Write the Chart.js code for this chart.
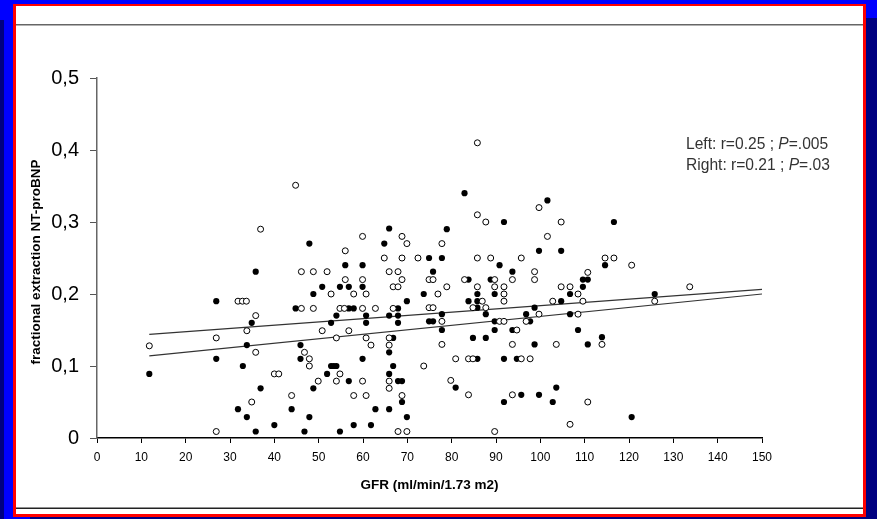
<!DOCTYPE html>
<html>
<head>
<meta charset="utf-8">
<script src="https://cdn.jsdelivr.net/npm/chart.js@4.4.1/dist/chart.umd.min.js"></script>
<style>
  html, body { margin: 0; padding: 0; background: #000080; }
  #wrap { width: 877px; height: 519px; }
</style>
</head>
<body>
<div id="wrap"><canvas id="chart" width="877" height="519"></canvas></div>
<script>
// GFR (x) and fractional extraction (y)
const filledPoints = [
  [11.8, 0.089], [26.9, 0.19], [26.9, 0.11], [31.8, 0.04], [32.9, 0.10], [33.8, 0.129],
  [33.8, 0.029], [34.9, 0.16], [35.8, 0.231], [35.8, 0.009], [36.9, 0.069],
  [40, 0.018], [43.9, 0.04], [44.8, 0.18], [45.9, 0.129], [45.9, 0.11], [46.8, 0.009],
  [47.9, 0.27], [47.9, 0.029], [48.8, 0.2], [48.8, 0.069], [50.8, 0.21], [51.9, 0.089],
  [52.8, 0.16], [52.8, 0.10], [53.4, 0.10], [54, 0.17], [54, 0.10], [54.8, 0.21],
  [54.8, 0.009], [56, 0.24], [56.8, 0.21], [56.8, 0.18], [56.8, 0.079], [57.9, 0.18],
  [57.9, 0.018], [59.9, 0.24], [59.9, 0.21], [59.9, 0.11], [60.7, 0.17], [60.7, 0.16],
  [61.8, 0.018], [62.8, 0.04], [64.8, 0.27], [65.9, 0.291], [65.9, 0.17], [65.9, 0.119],
  [65.9, 0.089], [65.9, 0.04], [66.8, 0.139], [66.8, 0.10], [67.9, 0.18], [67.9, 0.17],
  [67.9, 0.16], [67.9, 0.079], [68.8, 0.079], [68.8, 0.05], [69.9, 0.19], [69.9, 0.029],
  [73.7, 0.2], [74.9, 0.25], [74.9, 0.162], [75.8, 0.231], [75.8, 0.162], [77.8, 0.25],
  [77.8, 0.172], [77.8, 0.15], [78.9, 0.29], [80.9, 0.07], [82.9, 0.34], [83.8, 0.22],
  [83.8, 0.19], [84.8, 0.139], [85.8, 0.2], [85.8, 0.19], [85.8, 0.181], [85.8, 0.11],
  [87.7, 0.172], [87.7, 0.139], [88.8, 0.22], [89.7, 0.2], [89.7, 0.162], [89.7, 0.15],
  [90.8, 0.24], [91.8, 0.30], [91.8, 0.11], [91.8, 0.05], [93.7, 0.231], [93.7, 0.15],
  [94.7, 0.11], [95.7, 0.06], [96.8, 0.172], [97.7, 0.162], [98.7, 0.181], [98.7, 0.13],
  [99.7, 0.26], [99.7, 0.06], [101.6, 0.33], [102.8, 0.05], [103.6, 0.07], [104.7, 0.26],
  [104.7, 0.19], [106.7, 0.2], [106.7, 0.172], [108.5, 0.15], [109.6, 0.22], [109.6, 0.21],
  [110.7, 0.22], [110.7, 0.13], [113.9, 0.14], [114.6, 0.24], [116.6, 0.30], [120.6, 0.029],
  [125.8, 0.2]
];

const openPoints = [
  [11.8, 0.128], [26.9, 0.139], [26.9, 0.009], [31.8, 0.19], [32.8, 0.19], [33.7, 0.19],
  [33.8, 0.149], [34.9, 0.05], [35.8, 0.17], [35.8, 0.119], [36.9, 0.29],
  [40, 0.089], [41, 0.089], [43.9, 0.059], [44.8, 0.351], [46.1, 0.231], [46.1, 0.18],
  [46.8, 0.119], [47.9, 0.11], [47.9, 0.10], [48.8, 0.231], [48.8, 0.18], [49.9, 0.079],
  [50.8, 0.149], [51.9, 0.231], [52.8, 0.2], [54, 0.139], [54, 0.079], [54.8, 0.18],
  [54.8, 0.089], [55.8, 0.18], [56, 0.26], [56, 0.22], [56.8, 0.149], [57.9, 0.2],
  [57.9, 0.059], [59.9, 0.28], [59.9, 0.22], [59.9, 0.18], [59.9, 0.079], [60.7, 0.2],
  [60.7, 0.139], [60.7, 0.059], [61.8, 0.129], [62.8, 0.18], [64.8, 0.25], [65.9, 0.231],
  [65.9, 0.139], [65.9, 0.129], [65.9, 0.079], [65.9, 0.069], [66.8, 0.21], [66.8, 0.18],
  [67.9, 0.231], [67.9, 0.21], [67.9, 0.009], [68.8, 0.28], [68.8, 0.25], [68.8, 0.22],
  [68.8, 0.059], [69.9, 0.27], [69.9, 0.009], [72.4, 0.25], [73.7, 0.10], [74.9, 0.22],
  [74.9, 0.181], [75.8, 0.22], [75.8, 0.181], [76.9, 0.2], [77.8, 0.27], [77.8, 0.162],
  [77.8, 0.13], [78.9, 0.21], [79.8, 0.08], [80.9, 0.11], [82.9, 0.22], [83.8, 0.11],
  [83.8, 0.06], [84.8, 0.181], [84.8, 0.11], [85.8, 0.41], [85.8, 0.31], [85.8, 0.25],
  [85.8, 0.21], [86.9, 0.19], [87.7, 0.30], [87.7, 0.181], [88.8, 0.25], [89.7, 0.22],
  [89.7, 0.21], [89.7, 0.009], [90.8, 0.162], [91.8, 0.21], [91.8, 0.2], [91.8, 0.19],
  [91.8, 0.162], [93.7, 0.22], [93.7, 0.13], [93.7, 0.06], [94.7, 0.15], [95.7, 0.25],
  [95.7, 0.11], [96.8, 0.162], [97.7, 0.11], [98.7, 0.231], [98.7, 0.22], [99.7, 0.32],
  [99.7, 0.172], [101.6, 0.28], [102.8, 0.19], [103.6, 0.13], [104.7, 0.30], [104.7, 0.21],
  [106.7, 0.21], [106.7, 0.019], [108.5, 0.2], [108.5, 0.172], [109.6, 0.19], [110.7, 0.23],
  [110.7, 0.05], [113.9, 0.13], [114.6, 0.25], [116.6, 0.25], [120.6, 0.24], [125.8, 0.19],
  [133.7, 0.21]
];

// regression lines, end points
const upperLine = [[11.8, 0.144], [150, 0.2065]];
const lowerLine = [[11.8, 0.114], [150, 0.200]];

const yTicks = ['0', '0,1', '0,2', '0,3', '0,4', '0,5'];
const statLines = [['Left: r=0.25 ; ', 'P', '=.005'], ['Right: r=0.21 ; ', 'P', '=.03']];
const xTitle = 'GFR (ml/min/1.73 m2)';
const yTitle = 'fractional extraction NT-proBNP';

function toXY(arr) {
  return arr.map((p) => ({ x: p[0], y: p[1] }));
}

const frame = {
  id: 'frame',
  beforeDraw(chart) {
    const ctx = chart.ctx;
    ctx.save();
    ctx.fillStyle = '#0000ff';
    ctx.fillRect(0, 0, 877, 519);
    ctx.fillStyle = '#000080';
    ctx.fillRect(866, 18, 11, 501);
    ctx.fillRect(0, 20, 4, 499);
    ctx.fillRect(30, 517, 847, 2);
    ctx.fillStyle = '#ff0000';
    ctx.fillRect(13, 4, 853, 513);
    ctx.fillStyle = '#ffffff';
    ctx.fillRect(16, 6, 847, 508);
    ctx.fillStyle = '#666666';
    ctx.fillRect(16, 24, 847, 1.5);
    ctx.fillStyle = '#222222';
    ctx.fillRect(16, 507.5, 847, 1.5);
    ctx.restore();
  },
  afterDraw(chart) {
    const ctx = chart.ctx;
    const xs = chart.scales.x;
    ctx.save();
    ctx.fillStyle = '#000';
    ctx.font = 'bold 13.5px Arial, "Liberation Sans", sans-serif';
    ctx.textAlign = 'center';
    ctx.textBaseline = 'middle';
    ctx.fillText(xTitle, (xs.left + xs.right) / 2, 485);
    ctx.translate(36, 262);
    ctx.rotate(-Math.PI / 2);
    ctx.fillText(yTitle, 0, 0);
    ctx.restore();

    ctx.save();
    ctx.fillStyle = '#333';
    ctx.textBaseline = 'middle';
    ctx.textAlign = 'left';
    statLines.forEach((parts, i) => {
      let x = 686;
      const y = 145 + i * 21;
      parts.forEach((t, j) => {
        ctx.font = (j === 1 ? 'italic ' : '') + '15.6px Arial, "Liberation Sans", sans-serif';
        ctx.fillText(t, x, y);
        x += ctx.measureText(t).width;
      });
    });
    ctx.restore();
  }
};

new Chart(document.getElementById('chart'), {
  type: 'scatter',
  data: {
    datasets: [
      {
        data: toXY(openPoints),
        pointRadius: 3,
        pointBackgroundColor: '#fff',
        pointBorderColor: '#000',
        pointBorderWidth: 1
      },
      {
        data: toXY(filledPoints),
        pointRadius: 3.1,
        pointBackgroundColor: '#000',
        pointBorderColor: '#000',
        pointBorderWidth: 0
      },
      {
        data: toXY(upperLine),
        showLine: true,
        pointRadius: 0,
        borderColor: '#333',
        borderWidth: 1.2
      },
      {
        data: toXY(lowerLine),
        showLine: true,
        pointRadius: 0,
        borderColor: '#333',
        borderWidth: 1.2
      }
    ]
  },
  options: {
    responsive: false,
    animation: false,
    devicePixelRatio: 1,
    layout: { padding: { left: 0, right: 115, top: 78, bottom: 0 } },
    plugins: { legend: { display: false }, tooltip: { enabled: false } },
    scales: {
      x: {
        type: 'linear',
        min: 0,
        max: 150,
        afterFit: (s) => { s.height = 81; },
        ticks: {
          stepSize: 10,
          color: '#000',
          padding: 7,
          maxRotation: 0,
          font: { family: 'Arial, "Liberation Sans", sans-serif', size: 12 }
        },
        grid: { drawOnChartArea: false, tickLength: 5, color: '#000' },
        border: { color: '#000', width: 1.5 }
      },
      y: {
        min: 0,
        max: 0.5,
        afterFit: (s) => { s.width = 97; },
        ticks: {
          stepSize: 0.1,
          color: '#000',
          padding: 11,
          font: { family: 'Arial, "Liberation Sans", sans-serif', size: 20 },
          callback: (v) => yTicks[Math.round(v * 10)]
        },
        grid: { drawOnChartArea: false, tickLength: 7, color: '#555' },
        border: { color: '#666', width: 1.5 }
      }
    }
  },
  plugins: [frame]
});
</script>
</body>
</html>
